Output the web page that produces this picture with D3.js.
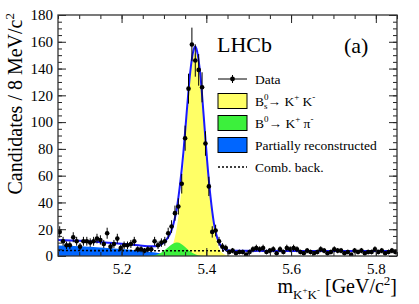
<!DOCTYPE html>
<html>
<head>
<meta charset="utf-8">
<script src="https://cdn.jsdelivr.net/npm/d3@7"></script>
<style>
  body { margin: 0; background: #fff; }
  text { font-family: "Liberation Serif", "DejaVu Serif", serif; fill: #000; }
</style>
</head>
<body>
<div class="graphic"></div>
<script>

// histogram: 100 bins of 8 MeV from 5.05 to 5.85
const massRange = [5.05, 5.85];
const binWidth = 0.008;
const counts = [
  18, 11, 8, 8, 14, 11, 7, 11, 11, 10,
  11, 13, 12, 9, 17, 7, 9, 13, 6, 8,
  8, 9, 11, 5, 5, 4, 5, 5, 11, 8,
  10, 11, 17, 22, 32, 37, 54, 88, 125, 158,
  146, 139, 126, 84, 52, 18, 19, 11, 7, 6,
  3, 4, 2, 3, 3, 1, 3, 5, 6, 5,
  6, 3, 4, 5, 2, 5, 3, 6, 5, 6,
  5, 3, 2, 4, 3, 2, 3, 5, 4, 2,
  3, 5, 4, 4, 2, 3, 1, 4, 3, 4,
  2, 3, 3, 5, 3, 4, 2, 3, 4, 3
];

// fit components, [mass, candidates]
const totalFit = [
  [5.05, 11.9], [5.10, 11.3], [5.15, 10.35], [5.20, 9.2], [5.24, 7.95], [5.27, 7.2],
  [5.29, 7.9], [5.298, 9.6], [5.306, 12.3], [5.314, 16.3], [5.322, 23.4], [5.330, 34.8],
  [5.338, 53.5], [5.346, 77.7], [5.354, 108.4], [5.362, 137.2], [5.370, 153.8], [5.374, 156.4],
  [5.378, 153.2], [5.386, 135], [5.394, 103.9], [5.402, 70.9], [5.410, 43.9], [5.418, 24.4],
  [5.426, 13.3], [5.434, 7.6], [5.442, 5.2], [5.450, 4.25], [5.47, 3.85], [5.60, 3.78],
  [5.75, 3.7], [5.85, 3.65]
];
const bsFit = [
  [5.290, 0], [5.298, 0.4], [5.306, 1.3], [5.314, 3.7], [5.322, 9.4], [5.330, 20.5],
  [5.338, 40], [5.346, 67], [5.354, 100], [5.362, 131], [5.370, 149], [5.374, 152],
  [5.378, 149], [5.386, 131], [5.394, 100], [5.402, 67], [5.410, 40], [5.418, 20.5],
  [5.426, 9.4], [5.434, 3.7], [5.442, 1.3], [5.450, 0.4], [5.460, 0]
];
const b0Fit = [
  [5.26, 0], [5.275, 0.4], [5.285, 1.1], [5.295, 2.8], [5.305, 5.3], [5.315, 7.9],
  [5.325, 9.7], [5.332, 10.0], [5.340, 9.2], [5.350, 6.8], [5.360, 4.0], [5.370, 1.8],
  [5.380, 0.6], [5.395, 0]
];
const partRecoFit = [
  [5.05, 7.8], [5.10, 7.2], [5.15, 6.3], [5.20, 5.2], [5.24, 4.0], [5.27, 3.0],
  [5.29, 2.1], [5.31, 1.0], [5.33, 0.3], [5.35, 0]
];
const combFit = [[5.05, 4.1], [5.45, 3.85], [5.85, 3.65]];

const xMajor = [5.2, 5.4, 5.6, 5.8];
const xMinor = d3.range(5.05, 5.851, 0.05);
const yMajor = d3.range(0, 181, 20);
const yMinor = d3.range(0, 181, 5);

const W = 419, H = 304;
const box = {left: 58, top: 15, right: 397, bottom: 256};

var svg = d3.select(".graphic")
  .append("svg")
  .attr("width", W)
  .attr("height", H);

var x = d3.scaleLinear().domain(massRange).range([box.left, box.right]);
var y = d3.scaleLinear().domain([0, 180]).range([box.bottom, box.top]);

svg.append("clipPath").attr("id", "frame")
  .append("rect")
  .attr("x", box.left).attr("y", box.top)
  .attr("width", box.right - box.left).attr("height", box.bottom - box.top);

var plot = svg.append("g").attr("clip-path", "url(#frame)");

function area(d) {
  return d3.area().x(p => x(p[0])).y0(y(0)).y1(p => y(p[1])).curve(d3.curveMonotoneX)(d);
}
function line(d) {
  return d3.line().x(p => x(p[0])).y(p => y(p[1])).curve(d3.curveMonotoneX)(d);
}

// filled components
plot.append("path").attr("d", area(partRecoFit)).attr("fill", "#0066ff");
plot.append("path").attr("d", area(bsFit)).attr("fill", "#ffff66");
plot.append("path").attr("d", area(b0Fit)).attr("fill", "#3cf03c");

// combinatorial background
plot.append("path").attr("d", line(combFit))
  .attr("fill", "none").attr("stroke", "#000")
  .attr("stroke-width", 1.6).attr("stroke-dasharray", "2,2");

// total fit
plot.append("path").attr("d", line(totalFit))
  .attr("fill", "none").attr("stroke", "#1a1aff").attr("stroke-width", 2);

// data points
var bins = counts.map((n, i) => ({m: massRange[0] + (i + 0.5) * binWidth, n: n}));
var pts = plot.append("g").selectAll("g").data(bins).enter().append("g");
pts.append("line")
  .attr("x1", d => x(d.m)).attr("x2", d => x(d.m))
  .attr("y1", d => y(d.n + Math.sqrt(d.n))).attr("y2", d => y(Math.max(0, d.n - Math.sqrt(d.n))))
  .attr("stroke", "#000").attr("stroke-width", 1);
pts.append("line")
  .attr("x1", d => x(d.m - binWidth / 2)).attr("x2", d => x(d.m + binWidth / 2))
  .attr("y1", d => y(d.n)).attr("y2", d => y(d.n))
  .attr("stroke", "#000").attr("stroke-width", 1);
pts.append("circle")
  .attr("cx", d => x(d.m)).attr("cy", d => y(d.n)).attr("r", 2.3)
  .attr("fill", "#000");

// axes, ticks inside on all four sides
function styleAxis(g) {
  g.select(".domain").remove();
  g.selectAll("line").attr("stroke", "#222").attr("stroke-width", 1);
  g.selectAll("text").attr("font-family", "Liberation Serif, serif").attr("font-size", 15).attr("fill", "#000");
}
svg.append("g").attr("transform", `translate(0,${box.bottom})`)
  .call(d3.axisBottom(x).tickValues(xMinor).tickSize(-4).tickFormat("")).call(styleAxis);
svg.append("g").attr("transform", `translate(0,${box.bottom})`)
  .call(d3.axisBottom(x).tickValues(xMajor).tickSize(-8).tickPadding(7).tickFormat(d3.format(".1f"))).call(styleAxis);
svg.append("g").attr("transform", `translate(0,${box.top})`)
  .call(d3.axisTop(x).tickValues(xMinor).tickSize(-4).tickFormat("")).call(styleAxis);
svg.append("g").attr("transform", `translate(0,${box.top})`)
  .call(d3.axisTop(x).tickValues(xMajor).tickSize(-8).tickFormat("")).call(styleAxis);
svg.append("g").attr("transform", `translate(${box.left},0)`)
  .call(d3.axisLeft(y).tickValues(yMinor).tickSize(-4).tickFormat("")).call(styleAxis);
svg.append("g").attr("transform", `translate(${box.left},0)`)
  .call(d3.axisLeft(y).tickValues(yMajor).tickSize(-8).tickPadding(5)).call(styleAxis);
svg.append("g").attr("transform", `translate(${box.right},0)`)
  .call(d3.axisRight(y).tickValues(yMinor).tickSize(-4).tickFormat("")).call(styleAxis);
svg.append("g").attr("transform", `translate(${box.right},0)`)
  .call(d3.axisRight(y).tickValues(yMajor).tickSize(-8).tickFormat("")).call(styleAxis);

svg.append("rect")
  .attr("x", box.left).attr("y", box.top)
  .attr("width", box.right - box.left).attr("height", box.bottom - box.top)
  .attr("fill", "none").attr("stroke", "#333").attr("stroke-width", 1.3);

// axis titles
var yt = svg.append("text")
  .attr("transform", `translate(22,13) rotate(-90)`)
  .attr("text-anchor", "end").attr("font-size", 20);
yt.append("tspan").text("Candidates / 8 MeV/c");
yt.append("tspan").attr("dy", -8).attr("font-size", 13).text("2");

var xt = svg.append("text")
  .attr("x", box.right).attr("y", 293)
  .attr("text-anchor", "end").attr("font-size", 20);
xt.append("tspan").text("m");
xt.append("tspan").attr("dy", 6).attr("font-size", 13).text("K");
xt.append("tspan").attr("dy", -6).attr("font-size", 9).text("+");
xt.append("tspan").attr("dy", 6).attr("font-size", 13).text("K");
xt.append("tspan").attr("dy", -6).attr("font-size", 9).text("-");
xt.append("tspan").attr("dy", 0).attr("font-size", 20).text(" [GeV/c");
xt.append("tspan").attr("dy", -8).attr("font-size", 13).text("2");
xt.append("tspan").attr("dy", 8).attr("font-size", 20).text("]");

svg.append("text").attr("x", 217).attr("y", 52).attr("font-size", 22).text("LHCb");
svg.append("text").attr("x", 344).attr("y", 53).attr("font-size", 22).text("(a)");

// legend
const legendRows = [79, 101, 123, 145, 167];
const lx = 218, lw = 29, tx = 255, fs = 13.5;
var leg = svg.append("g");

leg.append("line").attr("x1", lx).attr("x2", lx + lw).attr("y1", legendRows[0]).attr("y2", legendRows[0])
  .attr("stroke", "#000");
leg.append("line").attr("x1", lx + lw / 2).attr("x2", lx + lw / 2)
  .attr("y1", legendRows[0] - 4).attr("y2", legendRows[0] + 4).attr("stroke", "#000");
leg.append("circle").attr("cx", lx + lw / 2).attr("cy", legendRows[0]).attr("r", 2.4).attr("fill", "#000");

[["#ffff66", 1], ["#3cf03c", 2], ["#0066ff", 3]].forEach(([c, r]) => {
  leg.append("rect").attr("x", lx).attr("y", legendRows[r] - 7.5)
    .attr("width", lw).attr("height", 15)
    .attr("fill", c).attr("stroke", "#000").attr("stroke-width", 1);
});

leg.append("line").attr("x1", lx).attr("x2", lx + lw).attr("y1", legendRows[4]).attr("y2", legendRows[4])
  .attr("stroke", "#000").attr("stroke-width", 1.6).attr("stroke-dasharray", "2,2");

function legText(row) {
  return leg.append("text").attr("x", tx).attr("y", legendRows[row] + 4.5).attr("font-size", fs);
}
legText(0).text("Data");

var t1 = legText(1);
t1.append("tspan").text("B");
t1.append("tspan").attr("dy", -6).attr("font-size", 9).text("0");
t1.append("tspan").attr("dx", -4.5).attr("dy", 9).attr("font-size", 9).text("s");
t1.append("tspan").attr("dy", -3).attr("font-size", fs).text("\u2192 K");
t1.append("tspan").attr("dy", -6).attr("font-size", 9).text("+");
t1.append("tspan").attr("dy", 6).attr("font-size", fs).text(" K");
t1.append("tspan").attr("dy", -6).attr("font-size", 9).text("-");

var t2 = legText(2);
t2.append("tspan").text("B");
t2.append("tspan").attr("dy", -6).attr("font-size", 9).text("0");
t2.append("tspan").attr("dy", 6).attr("font-size", fs).text("\u2192 K");
t2.append("tspan").attr("dy", -6).attr("font-size", 9).text("+");
t2.append("tspan").attr("dy", 6).attr("font-size", fs).text(" \u03c0");
t2.append("tspan").attr("dy", -6).attr("font-size", 9).text("-");

legText(3).text("Partially reconstructed");
legText(4).text("Comb. back.");

</script>
</body>
</html>
